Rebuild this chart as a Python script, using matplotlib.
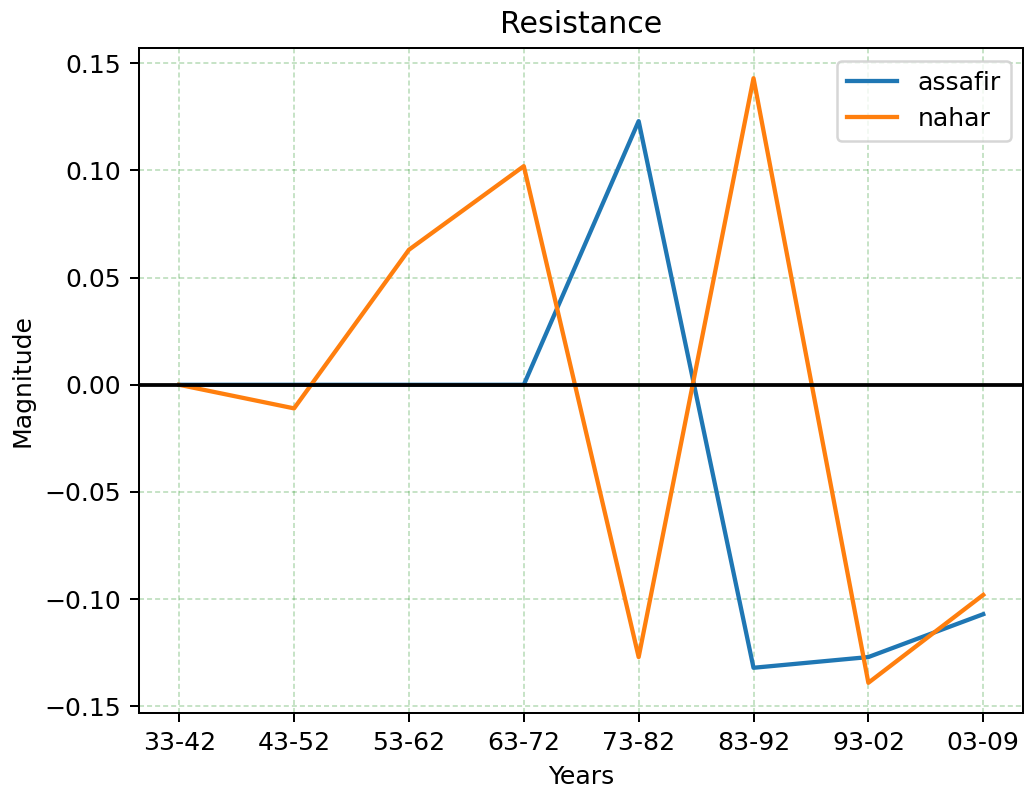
import matplotlib
matplotlib.use('Agg')
import matplotlib.pyplot as plt

years = ['33-42', '43-52', '53-62', '63-72', '73-82', '83-92', '93-02', '03-09']
assafir = [0.0, 0.0, 0.0, 0.0, 0.123, -0.132, -0.127, -0.107]
nahar = [0.0, -0.011, 0.063, 0.102, -0.127, 0.143, -0.139, -0.098]

dpi = 181
fig = plt.figure(figsize=(1026 / dpi, 791 / dpi), dpi=dpi)
ax = fig.add_axes([0.1355, 0.0986, 0.862, 0.8407])

ax.plot(years, assafir, lw=1.7, label='assafir')
ax.plot(years, nahar, lw=1.7, label='nahar')
ax.axhline(0, color='black', lw=1.5)

ax.grid(color='green', linestyle=(0, (2.5, 1.5)), linewidth=0.8, alpha=0.22)
ax.set_title('Resistance')
ax.set_xlabel('Years')
ax.set_ylabel('Magnitude')
ax.legend(loc='upper right')

fig.savefig('out.png', dpi=dpi)
